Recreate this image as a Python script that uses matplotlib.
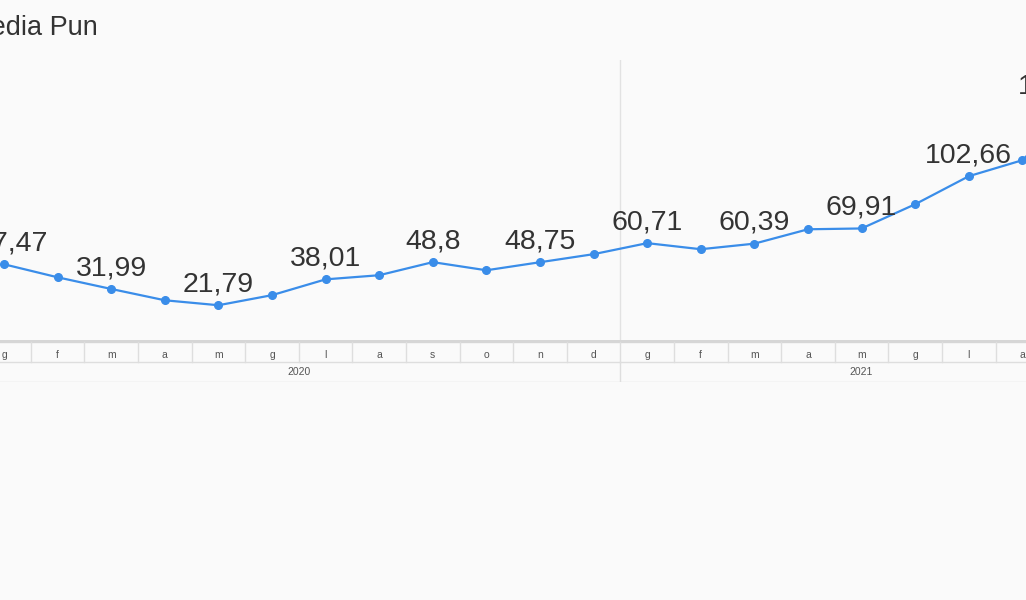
import matplotlib
matplotlib.use("Agg")
import matplotlib.pyplot as plt

plt.rcParams['font.family'] = ['Liberation Sans', 'DejaVu Sans']

title = "Media Pun"
months = ["g", "f", "m", "a", "m", "g", "l", "a", "s", "o", "n", "d",
          "g", "f", "m", "a", "m", "g", "l", "a", "s"]
years = ["2020", "2021"]
year_of = [0] * 12 + [1] * 9
values = [47.47, 39.3, 31.99, 24.9, 21.79, 28.1, 38.01, 40.6, 48.8, 43.7,
          48.75, 53.8, 60.71, 56.9, 60.39, 69.4, 69.91, 85.1, 102.66, 112.7, 145.8]
labeled = [0, 2, 4, 6, 8, 10, 12, 14, 16, 18, 20]

W, H = 1026, 600
fig = plt.figure(figsize=(W / 100, H / 100), dpi=100)
fig.patch.set_facecolor('#fafafa')

def fy(px):
    return 1 - px / H

x0 = -4 / 53.6
x1 = (W - 4) / 53.6

# main plot axes: pixel rows 60..340
ax = fig.add_axes([0, fy(340), 1, (340 - 60) / H])
ax.set_facecolor('#fafafa')
ax.set_xlim(x0, x1)
ax.set_ylim(0, 175.5)
for s in ax.spines.values():
    s.set_visible(False)
ax.set_xticks([])
ax.set_yticks([])

xs = list(range(len(values)))
ax.axvline(11.5, color='#e2e2e2', lw=1, zorder=0)
ax.plot(xs, values, color='#3a8de9', lw=1.6, marker='o', ms=5.5, zorder=3, clip_on=True)
for i in labeled:
    lab = f"{values[i]:g}".replace('.', ',')
    off = 0
    if i == 0:
        off = 6
    elif i == len(values) - 1:
        off = -16
    ax.annotate(lab, (xs[i], values[i]), xytext=(off, 15), textcoords='offset points',
                ha='center', va='center', fontsize=20.5, color='#333333', zorder=4,
                annotation_clip=False)

# category axis band: pixel rows 340..382
ax2 = fig.add_axes([0, fy(382), 1, (382 - 340) / H])
ax2.set_facecolor('#fafafa')
ax2.set_xlim(x0, x1)
ax2.set_ylim(42, 0)
ax2.axis('off')
ax2.axhline(1, color='#d6d6d6', lw=2.4)
ax2.axhline(21.7, color='#dedede', lw=1)
ax2.axhline(41.8, color='#dedede', lw=1)
for i, m in enumerate(months):
    ax2.text(i, 14.5, m, ha='center', va='center', fontsize=7.5, color='#555555')
    ax2.plot([i + 0.5, i + 0.5], [2, 21.7], color='#dedede', lw=1)
for k, y in enumerate(years):
    idx = [i for i, yy in enumerate(year_of) if yy == k]
    lo, hi = min(idx) - 0.5, max(idx) + 0.5
    ax2.text((lo + hi) / 2, 32, y, ha='center', va='center', fontsize=7.5, color='#555555')
    if k > 0:
        ax2.plot([lo, lo], [21.7, 41.8], color='#dedede', lw=1)

fig.text(98 / W, fy(28), title, ha='right', va='center', fontsize=19.5, color='#333333')

fig.savefig('out.png', dpi=100, facecolor=fig.get_facecolor())
